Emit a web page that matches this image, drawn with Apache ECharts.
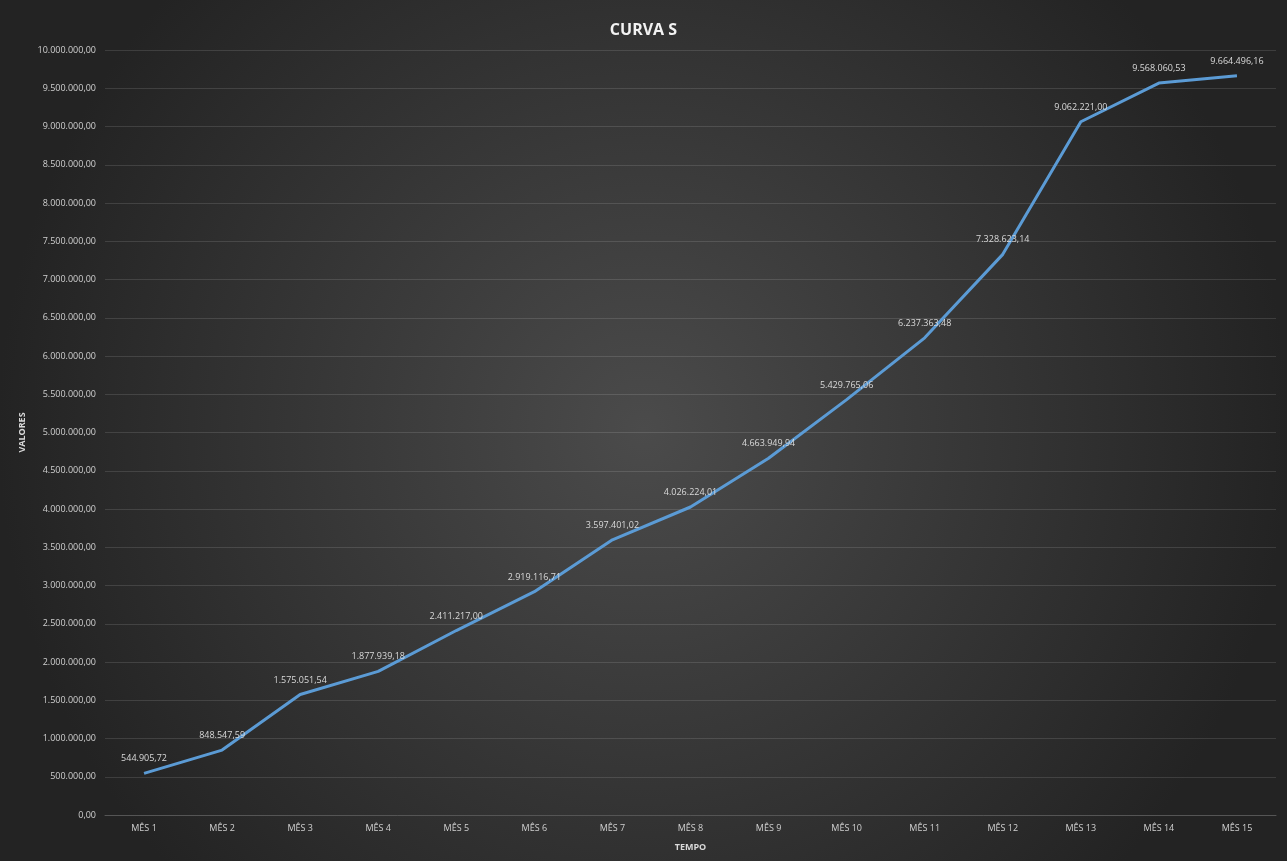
<!DOCTYPE html>
<html>
<head>
<meta charset="utf-8">
<script src="https://cdn.jsdelivr.net/npm/echarts@6/dist/echarts.min.js"></script>
<style>
html,body{margin:0;padding:0;background:#ffffff;}
#chart{position:absolute;left:0;top:0;width:1287px;height:861px;}
</style>
</head>
<body>
<div id="chart"></div>
<script>
const categories = ["MÊS 1","MÊS 2","MÊS 3","MÊS 4","MÊS 5","MÊS 6","MÊS 7","MÊS 8","MÊS 9","MÊS 10","MÊS 11","MÊS 12","MÊS 13","MÊS 14","MÊS 15"];
const values = [544905.72, 848547.59, 1575051.54, 1877939.18, 2411217.00, 2919116.71, 3597401.02, 4026224.01, 4663949.94, 5429765.06, 6237363.48, 7328623.14, 9062221.00, 9568060.53, 9664496.16];
const titleText = "CURVA S";
const yName = "VALORES";
const xName = "TEMPO";

function fmt(v){
  const neg = v < 0;
  const s = Math.abs(v).toFixed(2);
  let [ip, dp] = s.split('.');
  ip = ip.replace(/\B(?=(\d{3})+(?!\d))/g, '.');
  return (neg ? '-' : '') + ip + ',' + dp;
}

const chart = echarts.init(document.getElementById('chart'));
const font = '"Open Sans", "Noto Sans", sans-serif';
chart.setOption({
  backgroundColor: {
    type: 'radial', x: 0.5, y: 0.5, r: 0.75,
    colorStops: [
      {offset: 0, color: '#4b4b4b'},
      {offset: 1, color: '#232323'}
    ]
  },
  title: {
    text: titleText, left: 'center', top: 17,
    textStyle: {color: '#f2f2f2', fontSize: 16, fontWeight: 'bold', fontFamily: font}
  },
  grid: {left: 105, right: 11, top: 50, bottom: 46, containLabel: false},
  xAxis: {
    type: 'category', data: categories, boundaryGap: true,
    name: xName, nameLocation: 'middle', nameGap: 28,
    nameTextStyle: {color: '#d9d9d9', fontSize: 9, fontWeight: 'bold', fontFamily: font},
    axisLine: {show: true, lineStyle: {color: '#555555'}},
    axisTick: {show: false},
    axisLabel: {color: '#d0d0d0', fontSize: 9, fontFamily: font, margin: 9}
  },
  yAxis: {
    type: 'value', min: 0, max: 10000000, interval: 500000,
    name: yName, nameLocation: 'middle', nameGap: 78, nameRotate: 90,
    nameTextStyle: {color: '#d9d9d9', fontSize: 9, fontWeight: 'bold', fontFamily: font},
    axisLine: {show: false}, axisTick: {show: false},
    splitLine: {lineStyle: {color: 'rgba(255,255,255,0.12)', width: 1}},
    axisLabel: {color: '#d0d0d0', fontSize: 9, fontFamily: font, margin: 9, formatter: v => fmt(v)}
  },
  series: [{
    type: 'line', data: values, symbol: 'circle', symbolSize: 2, showSymbol: true,
    lineStyle: {color: '#5b9bd5', width: 3},
    itemStyle: {color: 'rgba(91,155,213,0)', borderWidth: 0},
    label: {
      show: true, position: 'top', distance: 9,
      color: '#d9d9d9', fontSize: 9, fontFamily: font,
      formatter: p => fmt(p.value)
    },
    labelLayout: {hideOverlap: false},
    animation: false
  }]
});
</script>
</body>
</html>
